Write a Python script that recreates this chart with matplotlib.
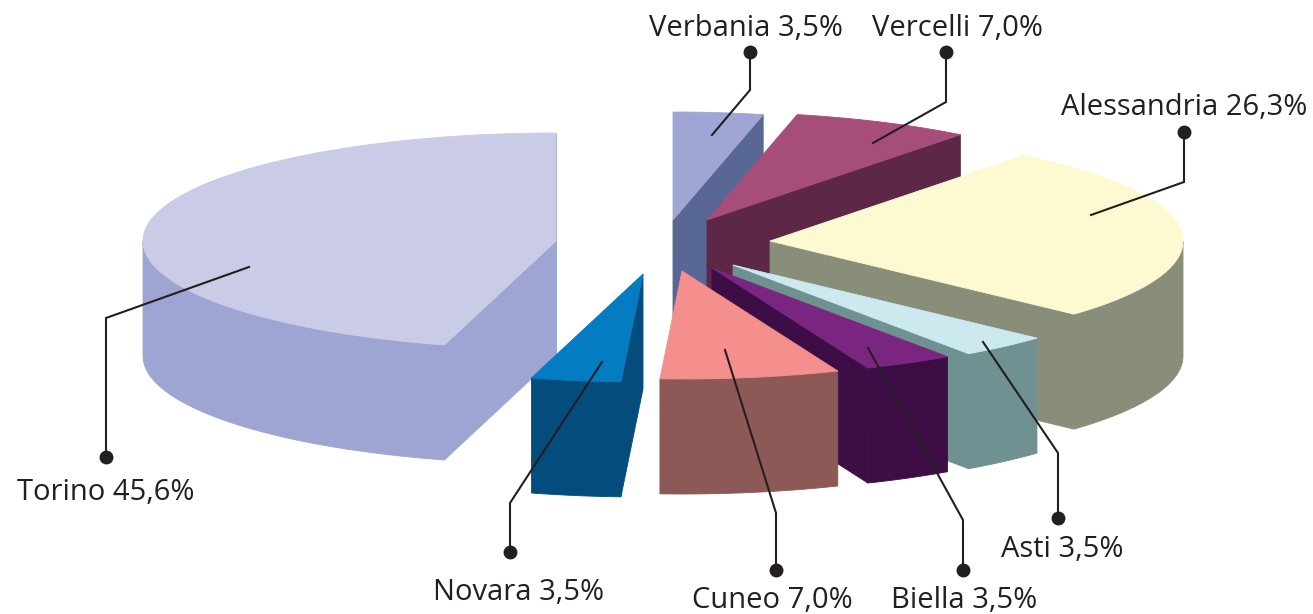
import matplotlib
matplotlib.use("Agg")
import matplotlib.pyplot as plt
from matplotlib.patches import Polygon
import numpy as np

# data (counter-clockwise from 12 o'clock)
provinces = ["Torino", "Novara", "Cuneo", "Biella", "Asti", "Alessandria", "Vercelli", "Verbania"]
shares = [45.6, 3.5, 7.0, 3.5, 3.5, 26.3, 7.0, 3.5]
top_colors = ["#c9cbe7", "#037cc1", "#f48f8e", "#7a2680", "#cce9f0", "#fdfad2", "#a64e79", "#a0a6d4"]
side_colors = ["#9fa5d3", "#034c7c", "#8c5957", "#3d0e45", "#6f9191", "#898e7a", "#5c2846", "#596795"]

# layout: exploded slice centres in pixels
centers = [(556, 241), (643, 274), (682, 271), (712, 268), (733, 265), (770, 241), (707, 220), (673, 220)]
RX, RY, DEPTH = 413, 108, 115

# leader lines: dot, knee, tip
leaders = [
    [(106, 457), (106, 318), (249, 267)],
    [(510, 552), (510, 503), (602, 362)],
    [(776, 570), (776, 513), (725, 350)],
    [(963, 570), (963, 520), (868, 348)],
    [(1058, 518), (1058, 453), (983, 342)],
    [(1184, 132), (1184, 182), (1091, 215)],
    [(946, 52), (946, 102), (873, 143)],
    [(750, 52), (750, 90), (712, 135)],
]
label_pos = [(106, 500), (519, 600), (772, 608), (964, 608), (1062, 557),
             (1184, 115), (957, 36), (746, 36)]

INK = "#231f20"


def rim(cx, cy, t, dz=0):
    return cx + RX * np.cos(t), cy - RY * np.sin(t) + dz


def front_parts(t1, t2):
    # pieces of [t1, t2] lying on the front half (sin < 0)
    out = []
    for a, b in [(-np.pi, 0), (np.pi, 2 * np.pi), (3 * np.pi, 4 * np.pi)]:
        lo, hi = max(t1, a), min(t2, b)
        if hi > lo:
            out.append((lo, hi))
    return out


fig = plt.figure(figsize=(13.13, 6.14), dpi=100)
ax = fig.add_axes([0, 0, 1, 1])
ax.set_xlim(0, 1313)
ax.set_ylim(614, 0)
ax.axis("off")

fracs = np.array(shares) / sum(shares)
starts = np.pi / 2 + 2 * np.pi * np.concatenate([[0], np.cumsum(fracs)[:-1]])
ends = starts + 2 * np.pi * fracs

order = sorted(range(len(shares)), key=lambda i: (centers[i][1], centers[i][0]))
for i in order:
    cx, cy = centers[i]
    t1, t2 = starts[i], ends[i]
    side = side_colors[i]

    # cut faces
    for t, visible in [(t1, np.cos(t1) > 0), (t2, np.cos(t2) < 0)]:
        if visible:
            x, y = rim(cx, cy, t)
            pts = [(cx, cy), (x, y), (x, y + DEPTH), (cx, cy + DEPTH)]
            ax.add_patch(Polygon(pts, closed=True, fc=side, ec=side, lw=0.6))

    # outer wall
    for lo, hi in front_parts(t1, t2):
        tt = np.linspace(lo, hi, 80)
        xs, ys = rim(cx, cy, tt)
        pts = np.column_stack([np.concatenate([xs, xs[::-1]]),
                               np.concatenate([ys, ys[::-1] + DEPTH])])
        ax.add_patch(Polygon(pts, closed=True, fc=side, ec=side, lw=0.6))

    # top face
    tt = np.linspace(t1, t2, 200)
    xs, ys = rim(cx, cy, tt)
    pts = np.column_stack([np.concatenate([[cx], xs]), np.concatenate([[cy], ys])])
    ax.add_patch(Polygon(pts, closed=True, fc=top_colors[i], ec=top_colors[i], lw=0.6))

# labels
for i, name in enumerate(provinces):
    pts = leaders[i]
    ax.plot([p[0] for p in pts], [p[1] for p in pts], color=INK, lw=1.5,
            solid_joinstyle="miter", zorder=5)
    ax.plot(pts[0][0], pts[0][1], "o", color=INK, ms=9, zorder=6)
    txt = f"{name} {shares[i]:.1f}%".replace(".", ",")
    ax.text(label_pos[i][0], label_pos[i][1], txt, ha="center", va="baseline",
            fontsize=21, family="Open Sans", color=INK)

fig.savefig("out.png", dpi=100)
